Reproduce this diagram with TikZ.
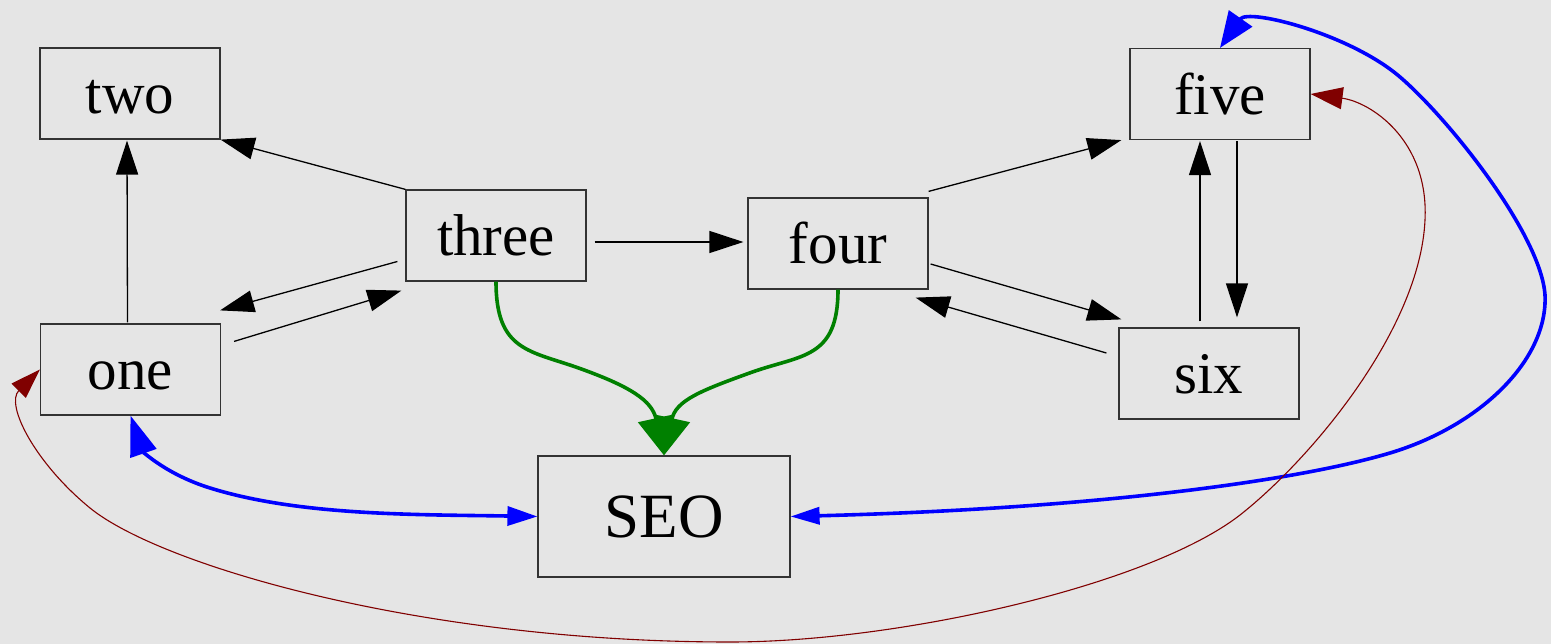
\documentclass[tikz,border=0pt]{standalone}
\usepackage{fontspec}
\setmainfont{Liberation Serif}
\usetikzlibrary{arrows.meta,calc}
\definecolor{canvas}{HTML}{E5E5E5}

\begin{document}
\begin{tikzpicture}[
  x=1pt,y=-1pt,
  box/.style={draw=black!80,line width=1.2pt,minimum width=180pt,
              minimum height=91pt,inner sep=0pt,text height=52pt,
              text depth=11pt,font=\fontsize{59}{62}\selectfont},
  hub/.style={box,minimum width=252pt,minimum height=121pt,
              text height=56pt,text depth=15pt,
              font=\fontsize{63}{66}\selectfont},
  link/.style={line width=1.3pt,-{Triangle[length=34pt,width=22pt]}},
  feed/.style={draw=green!50!black,line width=3.6pt,
               -{Triangle[length=38pt,width=36pt]}},
  sync/.style={draw=blue,line width=3.6pt},
  back/.style={draw=red!50!black,line width=1.1pt}
]
\useasboundingbox (0,0) rectangle (1551,644);
\fill[canvas] (0,0) rectangle (1551,644);

% pages
\node[box] (two)   at (130,93.5)   {two};
\node[box] (one)   at (130.5,369.5) {one};
\node[box] (three) at (496,235.5)  {three};
\node[box] (four)  at (838,243.5)  {four};
\node[box] (five)  at (1220,94)    {five};
\node[box] (six)   at (1209,373.5) {six};
\node[hub] (seo)   at (664,516.5)  {SEO};

% plain links
\draw[link] (three.north west) -- (two.south east);
\draw[link] ($(three.west)+(-8,26)$) -- ($(one.north east)+(-1,-13)$);
\draw[link] ($(one.north east)+(13,18)$) -- ($(three.south west)+(-4,9)$);
\draw[link] ($(one.north)+(-3,-1)$) -- ($(two.south)+(-3,1)$);
\draw[link] ($(three.east)+(8,6.5)$) -- ($(four.west)+(-4,-1.5)$);
\draw[link] ($(four.north east)+(0,-6)$) -- ($(five.south west)+(-8,0)$);
\draw[link] ($(four.east)+(2,20.5)$) -- ($(six.north west)+(3,-8)$);
\draw[link] ($(six.west)+(-12,-20.5)$) -- ($(four.south east)+(-13,8)$);
\draw[link] ($(six.north)+(-9,-6)$) -- ($(five.south)+(-20,1)$);
\draw[link] ($(five.south)+(17,1)$) -- ($(six.north)+(28,-10)$);

% into SEO
\draw[feed] (three.south) .. controls +(0,70) and +(-50,-18)
  .. ($(three.south)!0.5!(seo.north)$) .. controls +(50,18) and +(-12,-55) .. (seo.north);
\draw[feed] (four.south) .. controls +(0,70) and +(50,-18)
  .. ($(four.south)!0.5!(seo.north)$) .. controls +(-50,18) and +(12,-55) .. (seo.north);

% two-way
\draw[sync,{Triangle[length=40pt,width=27pt]}-{Triangle[length=30pt,width=19pt]}]
  (one.south) .. controls +(12,35) and +(-45,-14) .. (210,488)
  .. controls +(90,28) and +(-120,-2) .. (seo.west);
\draw[sync,{Triangle[length=29pt,width=17pt]}-{Triangle[length=36pt,width=28pt]}]
  (seo.east) .. controls +(310,-8) and +(-90,27) .. (1390,453)
  .. controls +(90,-27) and +(3,65) .. (1545,295)
  .. controls +(-4,-60) and +(50,43) .. (1400,77)
  .. controls +(-50,-43) and +(28,-40) .. (five.north);

% long way round
\draw[back,{Triangle[length=30pt,width=20pt]}-{Triangle[length=32pt,width=22pt]}]
  (one.west) .. controls +(-35,35) and +(-55,-45) .. (90,508)
  .. controls +(70,57) and +(-310,0) .. (730,642)
  .. controls +(170,0) and +(-90,70) .. (1240,515)
  .. controls +(70,-55) and +(-5,110) .. (1425,220)
  .. controls +(4,-80) and +(60,8) .. (five.east);
\end{tikzpicture}
\end{document}
